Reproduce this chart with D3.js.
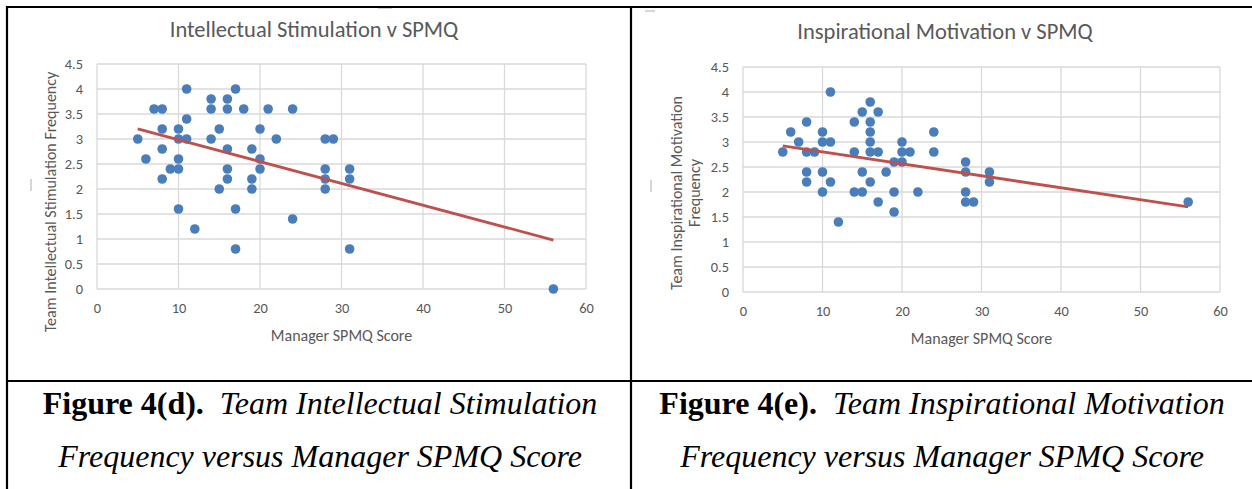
<!DOCTYPE html>
<html>
<head>
<meta charset="utf-8">
<script src="https://cdn.jsdelivr.net/npm/d3@7"></script>
<style>
  body { margin: 0; background: #fff; }
  svg { display: block; }
</style>
</head>
<body>
<svg width="1252" height="489"></svg>
<script>
// Intellectual Stimulation v SPMQ (fig 4d)
var leftScores = [5, 6, 7, 8, 8, 8, 8, 9, 10, 10, 10, 10, 10, 11, 11, 11, 12, 14, 14, 14,
    15, 15, 16, 16, 16, 16, 16, 17, 17, 17, 18, 19, 19, 19, 20, 20, 20, 21, 22, 24,
    24, 28, 28, 28, 28, 29, 31, 31, 31, 56];
var leftFreq = [3.0, 2.6, 3.6, 3.6, 3.2, 2.8, 2.2, 2.4, 2.4, 2.6, 3.0, 3.2, 1.6, 4.0, 3.4, 3.0, 1.2, 3.8, 3.6, 3.0,
    3.2, 2.0, 3.8, 3.6, 2.8, 2.4, 2.2, 4.0, 1.6, 0.8, 3.6, 2.8, 2.2, 2.0, 3.2, 2.6, 2.4, 3.6, 3.0, 3.6,
    1.4, 3.0, 2.4, 2.2, 2.0, 3.0, 2.4, 2.2, 0.8, 0.0];

// Inspirational Motivation v SPMQ (fig 4e)
var rightScores = [5, 6, 7, 8, 8, 8, 8, 9, 10, 10, 10, 10, 11, 11, 11, 12, 14, 14, 14, 15,
    15, 15, 16, 16, 16, 16, 16, 16, 17, 17, 17, 18, 19, 19, 19, 20, 20, 20, 21, 22,
    24, 24, 28, 28, 28, 28, 29, 31, 31, 56];
var rightFreq = [2.8, 3.2, 3.0, 3.4, 2.8, 2.4, 2.2, 2.8, 3.2, 3.0, 2.4, 2.0, 3.0, 4.0, 2.2, 1.4, 3.4, 2.8, 2.0, 3.6,
    2.4, 2.0, 3.8, 3.4, 3.2, 3.0, 2.8, 2.2, 3.6, 2.8, 1.8, 2.4, 2.6, 2.0, 1.6, 3.0, 2.8, 2.6, 2.8, 2.0,
    3.2, 2.8, 2.6, 2.4, 2.0, 1.8, 1.8, 2.4, 2.2, 1.8];

var xTicks = [0, 10, 20, 30, 40, 50, 60];
var yTicks = [0, 0.5, 1, 1.5, 2, 2.5, 3, 3.5, 4, 4.5];

var svg = d3.select("svg");
var chartFont = "Carlito, Lato, 'Liberation Sans', sans-serif";
var grey = "#595959";

function fitLine(xs, ys) {
    var n = xs.length, mx = d3.mean(xs), my = d3.mean(ys);
    var sxy = 0, sxx = 0;
    for (var i = 0; i < n; i++) {
        sxy += (xs[i] - mx) * (ys[i] - my);
        sxx += (xs[i] - mx) * (xs[i] - mx);
    }
    var b = sxy / sxx;
    return { a: my - b * mx, b: b };
}

function drawScatter(opt) {
    var x = d3.scaleLinear().domain([0, 60]).range([opt.left, opt.right]);
    var y = d3.scaleLinear().domain([0, 4.5]).range([opt.bottom, opt.top]);
    var g = svg.append("g");

    //gridlines
    g.selectAll(".hgrid").data(yTicks).enter().append("line")
        .attr("x1", opt.left).attr("x2", opt.right)
        .attr("y1", function (d) { return y(d); }).attr("y2", function (d) { return y(d); })
        .attr("stroke", "#d9d9d9").attr("stroke-width", 1.3);
    g.selectAll(".vgrid").data(xTicks).enter().append("line")
        .attr("y1", opt.top).attr("y2", opt.bottom)
        .attr("x1", function (d) { return x(d); }).attr("x2", function (d) { return x(d); })
        .attr("stroke", "#d9d9d9").attr("stroke-width", 1.3);

    //axes, labels only
    var xa = g.append("g")
        .attr("transform", "translate(0," + (opt.bottom + 11) + ")")
        .call(d3.axisBottom(x).tickValues(xTicks).tickSize(0).tickPadding(3));
    var ya = g.append("g")
        .attr("transform", "translate(" + (opt.left - 11) + ",0)")
        .call(d3.axisLeft(y).tickValues(yTicks).tickSize(0).tickPadding(3).tickFormat(d3.format("")));
    [xa, ya].forEach(function (a) {
        a.select(".domain").remove();
        a.selectAll("text").attr("fill", grey).style("font-family", chartFont).style("font-size", "14.4px");
    });

    //title
    g.append("text")
        .attr("x", opt.titleX).attr("y", opt.titleY)
        .attr("text-anchor", "middle")
        .attr("fill", grey)
        .style("font-family", chartFont).style("font-size", "22.5px")
        .text(opt.title);

    g.append("text")
        .attr("x", (opt.left + opt.right) / 2).attr("y", opt.bottom + 52)
        .attr("text-anchor", "middle")
        .attr("fill", grey)
        .style("font-family", chartFont).style("font-size", "16px")
        .text("Manager SPMQ Score");

    //y axis title (may be 2 lines)
    var yt = g.append("text")
        .attr("transform", "translate(" + opt.yTitleX + "," + opt.yTitleY + ") rotate(-90)")
        .attr("text-anchor", "middle")
        .attr("fill", grey)
        .style("font-family", chartFont).style("font-size", "16px");
    opt.yTitle.forEach(function (line, i) {
        yt.append("tspan").attr("x", 0).attr("dy", i == 0 ? 0 : 18).text(line);
    });

    //points
    var pts = opt.xs.map(function (d, i) { return [d, opt.ys[i]]; });
    g.selectAll(".dot").data(pts).enter().append("circle")
        .attr("cx", function (d) { return x(d[0]); })
        .attr("cy", function (d) { return y(d[1]); })
        .attr("r", 4.8)
        .attr("fill", "#4a7ebb");

    //linear trendline
    var fit = fitLine(opt.xs, opt.ys);
    var x0 = d3.min(opt.xs), x1 = d3.max(opt.xs);
    g.append("line")
        .attr("x1", x(x0)).attr("y1", y(fit.a + fit.b * x0))
        .attr("x2", x(x1)).attr("y2", y(fit.a + fit.b * x1))
        .attr("stroke", "#c0504d").attr("stroke-width", 2.8);

    //little selection-handle marks of the pasted chart
    opt.marks.forEach(function (m) {
        g.append("line")
            .attr("x1", m[0]).attr("y1", m[1]).attr("x2", m[2]).attr("y2", m[3])
            .attr("stroke", "#bbbbbb").attr("stroke-width", 1.2);
    });
}

drawScatter({
    left: 97, right: 586, top: 64, bottom: 289,
    xs: leftScores, ys: leftFreq,
    title: "Intellectual Stimulation v SPMQ", titleX: 314, titleY: 37,
    yTitle: ["Team Intellectual Stimulation Frequency"], yTitleX: 56, yTitleY: 202,
    marks: [[31, 179, 31, 191], [378, 8, 392, 8]]
});

drawScatter({
    left: 743, right: 1220, top: 67, bottom: 292,
    xs: rightScores, ys: rightFreq,
    title: "Inspirational Motivation v SPMQ", titleX: 945, titleY: 39,
    yTitle: ["Team Inspirational Motivation", "Frequency"], yTitleX: 682, yTitleY: 193,
    marks: [[651, 180, 651, 192], [645, 11, 655, 11]]
});

//table borders
var borders = [[7, 7, 1252, 7], [7, 6, 7, 489], [631, 6, 631, 489], [7, 381, 1252, 381]];
svg.selectAll(".border").data(borders).enter().append("line")
    .attr("x1", function (d) { return d[0]; }).attr("y1", function (d) { return d[1]; })
    .attr("x2", function (d) { return d[2]; }).attr("y2", function (d) { return d[3]; })
    .attr("stroke", "#000").attr("stroke-width", 2.2);

//captions
var captions = [
    { cx: 320, label: "Figure 4(d).", l1: "Team Intellectual Stimulation" },
    { cx: 942, label: "Figure 4(e).", l1: "Team Inspirational Motivation" }
];
captions.forEach(function (c) {
    var t = svg.append("text")
        .attr("x", c.cx).attr("y", 414)
        .attr("text-anchor", "middle")
        .style("font-family", "'Liberation Serif', 'Times New Roman', serif")
        .style("font-size", "32px").attr("fill", "#000");
    t.append("tspan").style("font-weight", "bold").text(c.label);
    t.append("tspan").style("font-style", "italic").attr("xml:space", "preserve").text("\u00a0 " + c.l1);
    svg.append("text")
        .attr("x", c.cx).attr("y", 467)
        .attr("text-anchor", "middle")
        .style("font-family", "'Liberation Serif', 'Times New Roman', serif")
        .style("font-size", "32px").style("font-style", "italic").attr("fill", "#000")
        .text("Frequency versus Manager SPMQ Score");
});
</script>
</body>
</html>
